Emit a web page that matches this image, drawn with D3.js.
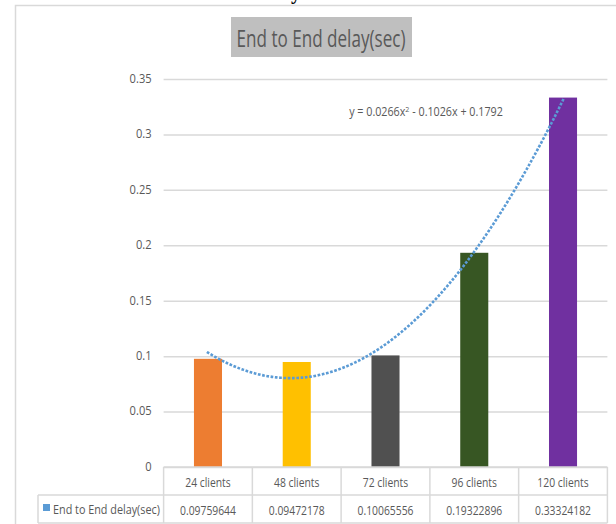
<!DOCTYPE html>
<html>
<head>
<meta charset="utf-8">
<script src="https://cdn.jsdelivr.net/npm/d3@7/dist/d3.min.js"></script>
<style>
  html, body { margin: 0; padding: 0; background: #fff; }
  svg { display: block; }
  text { font-family: "Open Sans", "Noto Sans", sans-serif; fill: #595959; }
</style>
</head>
<body>
<svg id="chart" width="616" height="524"></svg>
<script>
// Chart data
const categories = ["24 clients", "48 clients", "72 clients", "96 clients", "120 clients"];
const delays = [0.09759644, 0.09472178, 0.10065556, 0.19322896, 0.33324182];
const valueLabels = ["0.09759644", "0.09472178", "0.10065556", "0.19322896", "0.33324182"];
const barColors = ["#ed7d31", "#ffc000", "#505050", "#375623", "#7030a0"];
const yTicks = [0, 0.05, 0.1, 0.15, 0.2, 0.25, 0.3, 0.35];
const seriesName = "End to End delay(sec)";
const chartTitle = "End to End delay(sec)";

const svg = d3.select("#chart");
const plotLeft = 163.6, plotRight = 607.4, plotTop = 79, plotBottom = 467;
const gridColor = "#d9d9d9";
const cellFont = 13.5;

// Condensed lettering: squeeze a font horizontally so a sample string gets a given width
function squeezeFactor(sample, size, width) {
  const t = svg.append("text").style("font-size", size + "px").text(sample);
  const w = t.node().getComputedTextLength();
  t.remove();
  return width / w;
}
function placeText(sel, px, py, sx) {
  sel.attr("x", 0).attr("y", 0)
     .attr("transform", (d, i) => `translate(${typeof px === "function" ? px(d, i) : px},${py}) scale(${sx},1)`);
  return sel;
}

// Fragment of the page heading above the chart frame
svg.append("text").attr("x", 296).attr("y", -1).attr("text-anchor", "middle")
  .style("font-family", "'Liberation Serif', serif").style("font-weight", "bold")
  .style("font-size", "20px").style("fill", "#000").text("y");

// Chart frame
svg.append("path").attr("d", "M15.5,530 V5.5 H620")
  .attr("fill", "none").attr("stroke", gridColor).attr("stroke-width", 1.5);

const x = d3.scaleBand().domain(categories).range([plotLeft, plotRight])
  .paddingInner(0.684).paddingOuter(0.342);
const xc = d3.scaleLinear().domain([1, categories.length])
  .range([x(categories[0]) + x.bandwidth() / 2, x(categories[categories.length - 1]) + x.bandwidth() / 2]);
const y = d3.scaleLinear().domain([0, 0.35]).range([plotBottom, plotTop]);

// Title box
const titleSx = squeezeFactor(chartTitle, 24, 169);
svg.append("rect").attr("x", 231).attr("y", 17).attr("width", 181).attr("height", 40)
  .attr("fill", "#bfbfbf");
placeText(svg.append("text").attr("text-anchor", "middle").style("font-size", "24px").text(chartTitle),
  321, 46.5, titleSx);

// Gridlines and y axis labels
const tickSx = squeezeFactor("0.35", cellFont, 22);
const yAxis = d3.axisLeft(y).tickValues(yTicks).tickSize(-(plotRight - plotLeft))
  .tickFormat(d => d === 0 ? "0" : String(+d.toFixed(2)));
const ga = svg.append("g").attr("transform", `translate(${plotLeft},0)`).call(yAxis);
ga.select(".domain").remove();
ga.selectAll(".tick line").attr("stroke", gridColor).attr("stroke-width", 1.5);
ga.selectAll(".tick text").style("font-size", cellFont + "px").attr("fill", "#595959")
  .style("font-family", "'Open Sans', sans-serif")
  .attr("x", 0).attr("dy", "0.32em")
  .attr("transform", `translate(-12,-1) scale(${tickSx},1)`);

// Bars
svg.append("g").selectAll("rect").data(delays).join("rect")
  .attr("x", (d, i) => x(categories[i]))
  .attr("y", d => y(d))
  .attr("width", x.bandwidth())
  .attr("height", d => y(0) - y(d))
  .attr("fill", (d, i) => barColors[i]);

// Quadratic least-squares trendline over category index 1..n
function polyFit2(xs, ys) {
  let s = [0, 0, 0, 0, 0], t = [0, 0, 0];
  xs.forEach((xv, i) => {
    for (let k = 0; k < 5; k++) s[k] += Math.pow(xv, k);
    for (let k = 0; k < 3; k++) t[k] += ys[i] * Math.pow(xv, k);
  });
  const A = [[s[0], s[1], s[2], t[0]], [s[1], s[2], s[3], t[1]], [s[2], s[3], s[4], t[2]]];
  for (let i = 0; i < 3; i++) {
    for (let j = i + 1; j < 3; j++) {
      const f = A[j][i] / A[i][i];
      for (let k = i; k < 4; k++) A[j][k] -= f * A[i][k];
    }
  }
  const c = [0, 0, 0];
  for (let i = 2; i >= 0; i--) {
    let v = A[i][3];
    for (let k = i + 1; k < 3; k++) v -= A[i][k] * c[k];
    c[i] = v / A[i][i];
  }
  return c; // [c0, c1, c2]
}
const idx = categories.map((d, i) => i + 1);
const coef = polyFit2(idx, delays);
const trend = d3.range(1, categories.length + 0.0001, 0.05).map(t => [t, coef[0] + coef[1] * t + coef[2] * t * t]);
svg.append("path").datum(trend)
  .attr("d", d3.line().x(d => xc(d[0])).y(d => y(d[1])).curve(d3.curveMonotoneX))
  .attr("fill", "none").attr("stroke", "#5b9bd5").attr("stroke-width", 2.6)
  .attr("stroke-dasharray", "0.1 4.2").attr("stroke-linecap", "square");

// Trendline equation
const fmt = v => Math.abs(v).toFixed(4);
const eqStr1 = `y = ${fmt(coef[2])}x`;
const eqStr2 = ` ${coef[1] < 0 ? "-" : "+"} ${fmt(coef[1])}x ${coef[0] < 0 ? "-" : "+"} ${fmt(coef[0])}`;
const eqSx = squeezeFactor(eqStr1 + "2" + eqStr2, 12, 156);
const eq = placeText(svg.append("text").attr("text-anchor", "middle").style("font-size", "12px"), 426, 116, eqSx);
eq.append("tspan").text(eqStr1);
eq.append("tspan").attr("dy", -4).style("font-size", "8px").text("2");
eq.append("tspan").attr("dy", 4).text(eqStr2);

// Data table under the axis
const rowTop = plotBottom, rowMid = 495, rowBot = 523, legendLeft = 38;
const tg = svg.append("g").attr("stroke", gridColor).attr("stroke-width", 1.5);
const edges = categories.map(c => x(c) - x.step() * x.paddingInner() / 2).concat([plotRight]);
edges[0] = plotLeft;
tg.append("line").attr("x1", plotLeft).attr("x2", plotRight).attr("y1", rowTop).attr("y2", rowTop);
tg.append("line").attr("x1", legendLeft).attr("x2", plotRight).attr("y1", rowMid).attr("y2", rowMid);
tg.append("line").attr("x1", legendLeft).attr("x2", plotRight).attr("y1", rowBot).attr("y2", rowBot);
tg.append("line").attr("x1", legendLeft).attr("x2", legendLeft).attr("y1", rowMid).attr("y2", rowBot);
tg.selectAll("line.v").data(edges).join("line").attr("class", "v")
  .attr("x1", d => d).attr("x2", d => d).attr("y1", rowTop).attr("y2", rowBot);

const cellSx = squeezeFactor("0.09759644", cellFont, 56);
placeText(svg.append("g").selectAll("text").data(categories).join("text")
  .attr("text-anchor", "middle").style("font-size", cellFont + "px").text(d => d),
  d => x(d) + x.bandwidth() / 2, 486.5, cellSx);
placeText(svg.append("g").selectAll("text").data(valueLabels).join("text")
  .attr("text-anchor", "middle").style("font-size", cellFont + "px").text(d => d),
  (d, i) => x(categories[i]) + x.bandwidth() / 2, 514.5, cellSx);

// Legend key in the table's row header
const legendSx = squeezeFactor(seriesName, cellFont, 107);
svg.append("rect").attr("x", 43).attr("y", 504).attr("width", 7).attr("height", 7).attr("fill", "#5b9bd5");
placeText(svg.append("text").style("font-size", cellFont + "px").text(seriesName), 53, 514, legendSx);
</script>
</body>
</html>
